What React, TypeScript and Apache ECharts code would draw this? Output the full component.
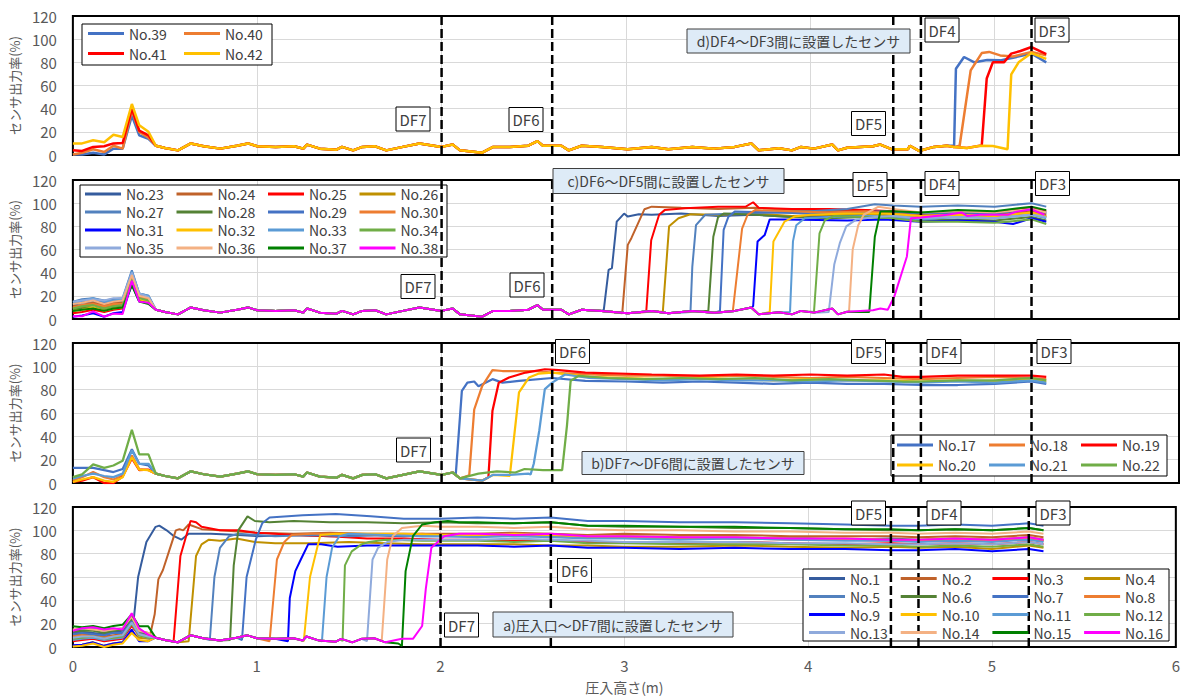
import React, { useEffect, useRef } from "react";
import * as echarts from "echarts";

const FONT = '"Noto Sans CJK JP", "Noto Sans", sans-serif';

// ---------- data ----------
const X_TICKS = [0, 1, 2, 3, 4, 5, 6];
const DF_X = [2.0, 2.6, 4.45, 4.6, 5.2];
const DF_NAMES = ["DF7", "DF6", "DF5", "DF4", "DF3"];

// first readings (m) before the shared low baseline
const HEAD_X = [0, 0.05, 0.11, 0.17, 0.22, 0.27, 0.32, 0.36, 0.41];

// low output before the grout reaches a sensor
const BASE: [number, number][] = [
  [0.45, 8], [0.5, 6], [0.57, 4], [0.64, 10], [0.71, 7.5], [0.8, 5.5], [0.89, 8], [0.95, 10],
  [1.0, 7.5], [1.1, 7], [1.2, 7.5], [1.25, 5.5], [1.27, 9], [1.34, 5.5], [1.43, 4.6], [1.46, 7],
  [1.52, 4], [1.57, 7], [1.64, 7.5], [1.7, 4], [1.79, 7], [1.88, 10], [2.0, 7], [2.06, 9],
  [2.1, 4], [2.22, 2], [2.28, 7], [2.37, 7], [2.47, 8], [2.52, 12], [2.55, 8], [2.65, 8],
  [2.69, 4], [2.76, 8], [2.87, 7], [3.01, 5], [3.14, 7], [3.23, 5], [3.36, 7], [3.48, 5.5],
  [3.59, 7], [3.68, 10], [3.72, 4], [3.83, 5.8], [3.9, 4], [3.95, 7], [4.02, 5.5], [4.12, 9],
  [4.15, 4], [4.2, 6.3], [4.34, 7.5], [4.38, 9], [4.44, 5], [4.53, 5], [4.54, 8], [4.59, 3.5],
  [4.67, 7], [4.74, 8], [4.78, 7], [4.85, 6], [4.92, 8], [4.99, 7.8], [5.07, 5],
];

// ---- panel a) 圧入口～DF7間 ----
const NAMES_A = ["No.1", "No.2", "No.3", "No.4", "No.5", "No.6", "No.7", "No.8", "No.9", "No.10", "No.11", "No.12", "No.13", "No.14", "No.15", "No.16"];
const HEADS_A = [
  [12, 13, 12, 11, 13, 14, 20, 0, 0],
  [10, 11, 10, 9, 10, 11, 22, 14, 12],
  [5, 6, 7, 5, 6, 7, 18, 10, 9],
  [0.6, 2, 4, 1, 3, 4, 13, 8, 7],
  [14, 15, 16, 14, 15, 16, 25, 13, 10],
  [13, 14, 14, 12, 14, 15, 24, 13, 10],
  [11, 12, 11, 10, 12, 12, 22, 12, 9],
  [9, 10, 9, 8, 9, 10, 20, 11, 9],
  [1.4, 2, 4, 1, 3, 4, 15, 5, 5],
  [0.5, 1, 3, 0, 2, 3, 12, 6, 5],
  [6, 7, 8, 6, 7, 8, 20, 10, 8],
  [7, 8, 9, 7, 8, 9, 20, 10, 8],
  [8, 9, 9, 7, 9, 10, 21, 11, 9],
  [15, 16, 15, 14, 15, 16, 26, 14, 12],
  [17.7, 17, 18, 16, 18, 19, 28, 17.7, 17.7],
  [14, 16, 17, 15, 16, 15, 29, 16, 10.6],
];
const TAILS_A: [number, number][][] = [
  [[0.33, 22], [0.355, 60], [0.4, 90], [0.45, 103], [0.47, 104], [0.51, 100], [0.55, 95], [0.59, 92], [0.63, 97], [0.75, 97], [0.9, 96], [1.0, 95], [1.2, 96], [1.4, 95], [1.6, 96], [1.8, 95], [2.0, 96]],
  [[0.42, 10], [0.445, 28], [0.465, 58], [0.49, 66], [0.525, 83], [0.56, 100], [0.58, 101], [0.6, 100], [0.63, 105], [0.7, 101], [0.8, 100], [0.9, 99], [1.0, 98], [1.2, 97], [1.4, 98], [1.6, 97], [1.8, 97], [2.0, 97]],
  [[0.548, 5], [0.585, 78], [0.64, 108], [0.67, 107], [0.7, 103], [0.8, 100], [0.9, 100], [0.99, 98], [1.1, 97], [1.2, 96], [1.4, 95], [1.6, 93], [1.8, 93], [2.0, 92]],
  [[0.63, 5], [0.67, 78], [0.7, 88], [0.74, 92], [0.8, 91], [0.89, 93], [0.99, 90], [1.1, 89], [1.3, 89], [1.5, 90], [1.7, 89], [1.9, 88], [2.0, 88]],
  [[0.745, 6], [0.77, 60], [0.8, 85], [0.85, 95], [0.9, 97], [1.1, 95], [1.3, 96], [1.5, 95], [1.7, 96], [1.9, 95], [2.0, 95]],
  [[0.855, 6], [0.875, 70], [0.9, 100], [0.95, 112], [0.99, 108], [1.07, 107], [1.2, 108], [1.4, 107], [1.6, 107], [1.8, 106], [2.0, 107]],
  [[0.92, 6], [0.945, 60], [0.995, 92], [1.03, 106], [1.07, 111], [1.25, 113], [1.43, 114], [1.62, 112], [1.8, 110], [2.0, 110]],
  [[1.07, 5], [1.11, 75], [1.15, 90], [1.19, 96], [1.3, 97], [1.5, 97], [1.7, 96], [1.9, 97], [2.0, 96]],
  [[1.17, 5], [1.18, 42], [1.21, 65], [1.24, 75], [1.28, 88], [1.35, 88], [1.44, 86], [1.6, 87], [1.8, 87], [2.0, 87]],
  [[1.256, 5], [1.29, 60], [1.346, 96], [1.43, 97], [1.6, 97], [1.8, 97], [2.0, 96]],
  [[1.355, 5], [1.38, 60], [1.41, 85], [1.45, 95], [1.5, 97], [1.7, 96], [1.9, 95], [2.0, 95]],
  [[1.467, 5], [1.48, 70], [1.517, 82], [1.57, 88], [1.61, 90], [1.7, 92], [1.9, 91], [2.0, 91]],
  [[1.6, 5], [1.63, 75], [1.66, 85], [1.71, 90], [1.8, 92], [2.0, 92]],
  [[1.68, 5], [1.71, 75], [1.74, 95], [1.79, 102], [1.9, 104], [2.0, 103]],
  [[1.77, 3], [1.79, 1], [1.81, 65], [1.85, 95], [1.9, 105], [1.97, 107], [2.04, 108], [2.1, 107]],
  [[1.85, 7], [1.9, 18], [1.92, 50], [1.95, 85], [2.02, 95], [2.1, 97]],
];
const PLATEAU_A_X = [2.2, 2.4, 2.6, 2.8, 3.0, 3.3, 3.6, 3.9, 4.2, 4.45, 4.6, 4.8, 5.0, 5.2, 5.28];
const PLATEAU_A = [
  [95, 96, 95, 94, 95, 94, 93, 94, 92, 93, 92, 93, 92, 94, 92],
  [97, 98, 97, 96, 97, 96, 96, 95, 95, 95, 94, 95, 94, 96, 94],
  [92, 91, 92, 90, 90, 89, 90, 89, 88, 89, 88, 89, 88, 90, 88],
  [88, 88, 87, 87, 86, 86, 87, 86, 85, 86, 85, 86, 84, 87, 85],
  [95, 96, 95, 94, 94, 93, 94, 93, 92, 92, 91, 92, 91, 93, 91],
  [106, 106, 107, 104, 103, 103, 102, 102, 101, 100, 100, 101, 100, 102, 100],
  [111, 110, 111, 108, 108, 107, 107, 106, 105, 104, 104, 105, 104, 106, 104],
  [96, 95, 96, 94, 94, 93, 93, 92, 92, 91, 91, 92, 91, 93, 91],
  [87, 86, 87, 85, 85, 84, 85, 84, 84, 83, 83, 84, 82, 84, 82],
  [96, 97, 96, 95, 95, 94, 94, 93, 93, 92, 92, 93, 92, 94, 92],
  [94, 95, 94, 93, 93, 92, 93, 92, 91, 91, 90, 91, 90, 92, 90],
  [91, 90, 91, 89, 89, 88, 88, 88, 87, 87, 86, 87, 86, 88, 86],
  [92, 93, 92, 91, 90, 90, 90, 89, 89, 88, 88, 89, 88, 90, 88],
  [103, 102, 103, 101, 100, 100, 99, 99, 98, 98, 97, 98, 97, 99, 97],
  [107, 106, 107, 104, 104, 103, 103, 102, 101, 101, 100, 101, 100, 102, 100],
  [97, 96, 97, 95, 95, 94, 94, 93, 93, 92, 92, 93, 92, 94, 92],
];

// ---- panel b) DF7～DF6間 ----
const NAMES_B = ["No.17", "No.18", "No.19", "No.20", "No.21", "No.22"];
const HEADS_B = [
  [13, 13, 13, 11, 9.4, 12, 29, 16.5, 15],
  [2.3, 5, 9.4, 5, 3, 6.5, 23.6, 12, 11],
  [1, 2, 5, 0, 0, 5.5, 21, 11, 11.4],
  [1, 3, 5, 2, 1, 5, 22, 11.4, 11],
  [3.7, 6, 8, 6, 5, 8, 28, 16.5, 16.5],
  [5, 7.4, 16, 13, 15, 19, 45.5, 24.5, 24.5],
];
const TAILS_B: [number, number][][] = [
  [[2.077, 7.4], [2.11, 79], [2.14, 86], [2.177, 87], [2.2, 83], [2.276, 89], [2.33, 86], [2.42, 87.6], [2.6, 90], [2.78, 87.6], [3.0, 87], [3.2, 86], [3.4, 87], [3.6, 86], [3.8, 85], [4.0, 86], [4.2, 85], [4.4, 85], [4.6, 84], [4.8, 84], [5.0, 85], [5.2, 87], [5.28, 85]],
  [[2.15, 6.5], [2.177, 63], [2.22, 83], [2.276, 96.7], [2.33, 96], [2.51, 96], [2.6, 94.7], [2.8, 93], [3.0, 92], [3.2, 92], [3.4, 91], [3.6, 92], [3.8, 91], [4.0, 90], [4.2, 91], [4.4, 90], [4.6, 89], [4.8, 90], [5.0, 91], [5.2, 90], [5.28, 89]],
  [[2.254, 5], [2.276, 62], [2.31, 86], [2.366, 90.4], [2.456, 94.7], [2.56, 97.5], [2.636, 96.7], [2.78, 94.7], [3.14, 93], [3.4, 92], [3.6, 93], [3.8, 92], [4.0, 93], [4.2, 92], [4.4, 93], [4.5, 91], [4.6, 91], [4.8, 92], [5.0, 92], [5.2, 92], [5.28, 91]],
  [[2.37, 6], [2.42, 77.6], [2.474, 90.4], [2.528, 93.8], [2.6, 94.7], [2.8, 91], [3.0, 90], [3.2, 89], [3.4, 90], [3.6, 89], [3.8, 88], [4.0, 89], [4.2, 88], [4.4, 88], [4.6, 87], [4.8, 88], [5.0, 87], [5.2, 89], [5.28, 87]],
  [[2.483, 7.4], [2.5, 16.5], [2.53, 45], [2.56, 80.5], [2.6, 86], [2.67, 93], [2.8, 90], [3.0, 89], [3.2, 88], [3.4, 89], [3.6, 88], [3.8, 88], [4.0, 87], [4.2, 88], [4.4, 87], [4.6, 86], [4.8, 87], [5.0, 86], [5.2, 88], [5.28, 86]],
  [[2.2, 8], [2.3, 10], [2.4, 9], [2.45, 12], [2.55, 11], [2.654, 11], [2.68, 49], [2.7, 87.6], [2.744, 91.8], [2.9, 90], [3.1, 89], [3.3, 90], [3.5, 89], [3.7, 90], [3.9, 88], [4.1, 89], [4.3, 88], [4.5, 87], [4.6, 87], [4.8, 88], [5.0, 88], [5.2, 90], [5.28, 88]],
];

// ---- panel c) DF6～DF5間 ----
const NAMES_C = ["No.23", "No.24", "No.25", "No.26", "No.27", "No.28", "No.29", "No.30", "No.31", "No.32", "No.33", "No.34", "No.35", "No.36", "No.37", "No.38"];
const HEADS_C = [
  [12, 14, 15, 13, 16, 15, 38, 20, 18],
  [11, 12, 14, 12, 14, 14, 36, 19, 17],
  [5, 6, 8, 6, 8, 9, 32, 16, 14],
  [9, 10, 12, 10, 12, 12, 35, 18, 16],
  [15, 17, 18, 16, 17, 18, 42, 22, 20],
  [8, 9, 10, 8, 10, 11, 30, 16, 14],
  [13, 15, 17, 14, 16, 16, 40, 21, 19],
  [10, 12, 13, 11, 13, 13, 36, 19, 17],
  [2, 3, 5, 2, 5, 6, 30, 15, 14],
  [7, 8, 10, 7, 9, 10, 33, 17, 15],
  [14, 16, 18, 15, 16, 17, 41, 22, 20],
  [9, 11, 12, 9, 11, 12, 34, 18, 16],
  [15, 16, 17, 16, 18, 18, 40, 22, 19],
  [13, 14, 16, 13, 15, 16, 38, 20, 18],
  [7, 8, 9, 7, 9, 10, 29, 15, 13],
  [2.3, 2.3, 6.6, 2, 4.6, 4.3, 33, 15, 14],
];
const TAILS_C: [number, number][][] = [
  [[2.88, 8], [2.906, 42.5], [2.924, 44], [2.95, 84], [2.99, 91], [3.01, 88.4], [3.07, 90.4], [3.14, 90], [3.3, 91], [3.5, 89], [3.7, 90], [3.9, 88], [4.1, 89], [4.3, 90], [4.45, 91], [4.6, 89], [4.8, 92], [5.0, 90], [5.2, 94], [5.28, 91]],
  [[2.98, 5], [3.01, 64], [3.03, 70], [3.1, 94.7], [3.14, 97], [3.3, 96], [3.5, 95], [3.7, 96], [3.9, 94], [4.1, 93], [4.3, 94], [4.45, 92], [4.6, 90], [4.8, 91], [5.0, 90], [5.2, 93], [5.28, 90]],
  [[3.11, 6], [3.137, 68], [3.18, 90], [3.21, 94], [3.32, 95.6], [3.5, 97], [3.65, 97], [3.69, 100.8], [3.72, 96], [3.9, 95], [4.1, 95], [4.3, 94], [4.45, 93], [4.6, 91], [4.8, 93], [5.0, 92], [5.2, 96], [5.28, 93]],
  [[3.2, 6], [3.234, 80], [3.285, 87], [3.35, 90.4], [3.5, 90], [3.7, 91], [3.9, 89], [4.1, 90], [4.3, 91], [4.45, 89], [4.6, 88], [4.8, 90], [5.0, 89], [5.2, 92], [5.28, 89]],
  [[3.35, 6], [3.36, 45], [3.38, 81], [3.43, 90], [3.6, 91], [3.8, 92], [4.0, 93], [4.2, 95], [4.35, 99], [4.45, 98], [4.6, 97], [4.8, 98], [5.0, 97], [5.2, 100], [5.28, 97]],
  [[3.447, 7], [3.474, 71], [3.5, 88], [3.53, 91], [3.7, 90], [3.9, 88], [4.1, 87], [4.3, 88], [4.45, 87], [4.6, 85], [4.8, 86], [5.0, 85], [5.2, 88], [5.28, 85]],
  [[3.51, 7], [3.53, 77], [3.555, 88], [3.59, 92.7], [3.8, 92], [4.0, 91], [4.2, 92], [4.4, 93], [4.6, 91], [4.8, 92], [5.0, 91], [5.2, 95], [5.28, 92]],
  [[3.58, 7], [3.63, 78], [3.66, 90], [3.7, 94], [3.9, 93], [4.1, 92], [4.3, 93], [4.45, 91], [4.6, 89], [4.8, 90], [5.0, 89], [5.2, 92], [5.28, 88]],
  [[3.69, 11], [3.714, 67], [3.753, 72.6], [3.78, 86], [3.86, 86], [4.04, 85.5], [4.2, 85], [4.4, 86], [4.6, 84], [4.8, 85], [5.0, 84], [5.1, 82], [5.2, 87], [5.28, 84]],
  [[3.78, 6], [3.8, 67], [3.86, 84], [3.914, 88.4], [4.0, 90], [4.2, 91], [4.4, 91], [4.6, 89], [4.8, 90], [5.0, 89], [5.2, 92], [5.28, 88]],
  [[3.89, 6], [3.906, 67], [3.924, 81], [3.97, 87], [4.1, 88], [4.3, 89], [4.45, 88], [4.6, 86], [4.8, 88], [5.0, 87], [5.2, 90], [5.28, 87]],
  [[4.02, 6], [4.05, 74], [4.08, 85.5], [4.13, 89], [4.3, 88], [4.45, 87], [4.6, 84], [4.8, 84], [5.0, 83], [5.2, 86], [5.28, 82]],
  [[4.1, 6], [4.13, 47], [4.16, 65.5], [4.195, 80], [4.25, 86], [4.35, 88], [4.45, 89], [4.6, 87], [4.8, 88], [5.0, 87], [5.2, 90], [5.28, 88]],
  [[4.21, 6], [4.23, 60], [4.26, 81], [4.29, 90], [4.37, 97], [4.45, 95], [4.6, 92], [4.8, 93], [5.0, 92], [5.2, 95], [5.28, 92]],
  [[4.32, 6], [4.35, 71], [4.38, 92.7], [4.45, 93], [4.6, 92], [4.8, 94], [5.0, 93], [5.2, 97], [5.28, 94]],
  [[4.42, 8], [4.456, 19.5], [4.524, 54], [4.546, 87], [4.6, 87.6], [4.744, 90], [4.82, 92], [4.85, 89], [4.92, 90], [5.07, 90], [5.12, 92.7], [5.2, 94.7], [5.27, 90]],
];

// ---- panel d) DF4～DF3間 ----
const NAMES_D = ["No.39", "No.40", "No.41", "No.42"];
const HEADS_D = [
  [0.5, 0.5, 2, 0.5, 5.5, 5.5, 34, 17, 14],
  [0.5, 2, 5, 2.6, 8, 5.5, 38.5, 20, 15],
  [4, 3.5, 7, 7.5, 10, 10.4, 40, 21, 17],
  [10, 10, 12.7, 11, 17.5, 15.5, 44, 25.6, 20],
];
const TAILS_D: [number, number][][] = [
  [[4.78, 8], [4.79, 74.5], [4.834, 84.6], [4.89, 80], [4.96, 82], [5.03, 81.7], [5.1, 84], [5.2, 87.5], [5.28, 80]],
  [[4.81, 8], [4.87, 73], [4.93, 88], [4.97, 89], [5.03, 86], [5.1, 85], [5.2, 89], [5.28, 86]],
  [[4.93, 8], [4.957, 66], [4.99, 80], [5.05, 80], [5.09, 87.5], [5.14, 89.8], [5.2, 93.2], [5.28, 87]],
  [[5.07, 5], [5.09, 69.6], [5.13, 80], [5.2, 88], [5.28, 83]],
];

// ---------- styles ----------
const PALETTE16 = ["#355C9E", "#C0622A", "#FF0000", "#BF9000", "#5281BE", "#548235", "#4472C4", "#ED7D31", "#0000FF", "#FFC000", "#5B9BD5", "#70AD47", "#8FAADC", "#F4B183", "#008000", "#FF00FF"];
const PALETTE6 = ["#4472C4", "#ED7D31", "#FF0000", "#FFC000", "#5B9BD5", "#70AD47"];
const PALETTE4 = ["#4472C4", "#ED7D31", "#FF0000", "#FFC000"];

function buildData(head: number[], tail: [number, number][], plateau?: number[], plateauX?: number[]) {
  const t0 = tail[0][0];
  const pts: [number, number][] = [];
  HEAD_X.forEach((x, i) => { if (x < t0) pts.push([x, head[i]]); });
  const lastHead = HEAD_X[HEAD_X.length - 1];
  BASE.forEach((p) => { if (p[0] > lastHead && p[0] < t0) pts.push(p); });
  tail.forEach((p) => pts.push(p));
  if (plateau && plateauX) plateauX.forEach((x, i) => pts.push([x, plateau[i]]));
  return pts;
}

function buildOption() {
  const GRIDS = [
    { top: 16, height: 139 },
    { top: 180, height: 139 },
    { top: 343, height: 140 },
    { top: 507, height: 140 },
  ];
  const panels = [
    { g: 0, names: NAMES_D, heads: HEADS_D, tails: TAILS_D, colors: PALETTE4, width: 2.5 },
    { g: 1, names: NAMES_C, heads: HEADS_C, tails: TAILS_C, colors: PALETTE16, width: 2 },
    { g: 2, names: NAMES_B, heads: HEADS_B, tails: TAILS_B, colors: PALETTE6, width: 2.25 },
    { g: 3, names: NAMES_A, heads: HEADS_A, tails: TAILS_A, colors: PALETTE16, width: 2, plateau: PLATEAU_A, plateauX: PLATEAU_A_X },
  ];

  const series: any[] = [];
  panels.forEach((p: any) => {
    p.names.forEach((n: string, i: number) => {
      series.push({
        type: "line", name: n, xAxisIndex: p.g, yAxisIndex: p.g,
        data: buildData(p.heads[i], p.tails[i], p.plateau ? p.plateau[i] : undefined, p.plateauX),
        showSymbol: false, symbol: "none", color: p.colors[i],
        lineStyle: { width: p.width, color: p.colors[i] }, silent: true, z: 2,
      });
    });
    DF_X.forEach((x) => {
      series.push({
        type: "line", xAxisIndex: p.g, yAxisIndex: p.g, data: [[x, 0], [x, 120]],
        showSymbol: false, symbol: "none", silent: true, z: 3,
        lineStyle: { color: "#000", width: 2.5, type: [9, 4] },
      });
    });
  });

  const legendSpec = [
    { names: NAMES_D, x0: 88, y0: 33.5, dx: 96, dy: 20, ncol: 2 },
    { names: NAMES_C, x0: 85, y0: 194, dx: 91.5, dy: 18, ncol: 4 },
    { names: NAMES_B, x0: 897, y0: 445, dx: 92, dy: 20, ncol: 3 },
    { names: NAMES_A, x0: 809, y0: 578.5, dx: 91.7, dy: 18, ncol: 4 },
  ];
  const legends: any[] = [];
  legendSpec.forEach((l) => {
    l.names.forEach((n, i) => {
      legends.push({
        show: true, selectedMode: false, data: [n],
        left: l.x0 + (i % l.ncol) * l.dx,
        top: l.y0 + Math.floor(i / l.ncol) * l.dy - 8,
        padding: 0, itemWidth: 36, itemHeight: 3, icon: "rect", z: 5,
        textStyle: { fontFamily: FONT, fontSize: 14, color: "#404040", lineHeight: 16 },
      });
    });
  });

  const frames = [
    { x: 82, y: 24, w: 190, h: 41 },
    { x: 80, y: 185, w: 367, h: 72 },
    { x: 891, y: 435, w: 276, h: 41 },
    { x: 803, y: 569, w: 366, h: 72 },
  ];
  const graphics: any[] = frames.map((f) => ({
    type: "rect", z: 3, silent: true,
    shape: { x: f.x, y: f.y, width: f.w, height: f.h },
    style: { fill: "#fff", stroke: "#000", lineWidth: 1 },
  }));

  const box = (cx: number, cy: number, w: number, h: number, text: string, fill: string, stroke: string, fs: number) => {
    graphics.push({
      type: "rect", z: 10, silent: true,
      shape: { x: cx - w / 2, y: cy - h / 2, width: w, height: h },
      style: { fill, stroke, lineWidth: 1 },
    });
    graphics.push({
      type: "text", z: 11, silent: true, x: cx, y: cy,
      style: { text, fill: "#404040", font: `${fs}px ${FONT}`, align: "center", verticalAlign: "middle" },
    });
  };
  // DF label boxes (centres per panel, in DF_NAMES order)
  const dfPos = [
    [[413, 119], [526, 119.5], [868.5, 123.5], [942, 30], [1052, 30]],
    [[418, 286.5], [527, 285], [870, 184.5], [942, 183.5], [1052.5, 183.5]],
    [[413.5, 450], [572.5, 351.5], [868.5, 351.5], [944, 351.5], [1054, 351.5]],
    [[461.5, 625], [574.5, 570.5], [868.5, 513], [944, 513], [1053, 513]],
  ];
  dfPos.forEach((row) => row.forEach((c, i) => box(c[0], c[1], 34, 24, DF_NAMES[i], "#fff", "#000", 15)));
  const LABEL_FILL = "#DEEBF7";
  box(798.5, 41, 223, 24, "d)DF4～DF3間に設置したセンサ", LABEL_FILL, "#3f3f3f", 14);
  box(668.5, 181, 231, 25, "c)DF6～DF5間に設置したセンサ", LABEL_FILL, "#3f3f3f", 14);
  box(693, 463, 222, 23, "b)DF7～DF6間に設置したセンサ", LABEL_FILL, "#3f3f3f", 14);
  box(613, 624.5, 240, 25, "a)圧入口～DF7間に設置したセンサ", LABEL_FILL, "#3f3f3f", 14);

  return {
    animation: false,
    backgroundColor: "#fff",
    textStyle: { fontFamily: FONT },
    grid: GRIDS.map((g) => ({
      left: 69, right: 4, top: g.top, height: g.height, show: true,
      borderColor: "#000", borderWidth: 2, backgroundColor: "transparent", z: 1,
    })),
    xAxis: GRIDS.map((_, i) => ({
      type: "value", gridIndex: i, min: X_TICKS[0], max: X_TICKS[X_TICKS.length - 1], interval: 1,
      axisLine: { show: false }, axisTick: { show: false },
      splitLine: { show: true, lineStyle: { color: "#d9d9d9", width: 1 } },
      axisLabel: i === 3 ? { show: true, fontSize: 15, color: "#595959", margin: 11, fontFamily: FONT } : { show: false },
      name: i === 3 ? "圧入高さ(m)" : "",
      nameLocation: "middle", nameGap: 33,
      nameTextStyle: { fontSize: 14, color: "#595959", fontFamily: FONT },
    })),
    yAxis: GRIDS.map((_, i) => ({
      type: "value", gridIndex: i, min: 0, max: 120, interval: 20,
      axisLine: { show: false }, axisTick: { show: false },
      splitLine: { show: true, lineStyle: { color: "#d9d9d9", width: 1 } },
      axisLabel: { fontSize: 15, color: "#595959", margin: 16, fontFamily: FONT },
      name: "センサ出力率(%)", nameLocation: "middle", nameGap: 43, nameRotate: 90,
      nameTextStyle: { fontSize: 13, color: "#595959", fontFamily: FONT },
    })),
    legend: legends,
    graphic: graphics,
    series,
  };
}

export default function App() {
  const ref = useRef<HTMLDivElement>(null);
  useEffect(() => {
    if (!ref.current) return;
    const chart = echarts.init(ref.current, undefined, { renderer: "svg" });
    chart.setOption(buildOption() as any);
    return () => chart.dispose();
  }, []);
  return (
    <div
      ref={ref}
      style={{ position: "fixed", left: 0, top: 0, width: 1183, height: 697, background: "#fff" }}
    />
  );
}
